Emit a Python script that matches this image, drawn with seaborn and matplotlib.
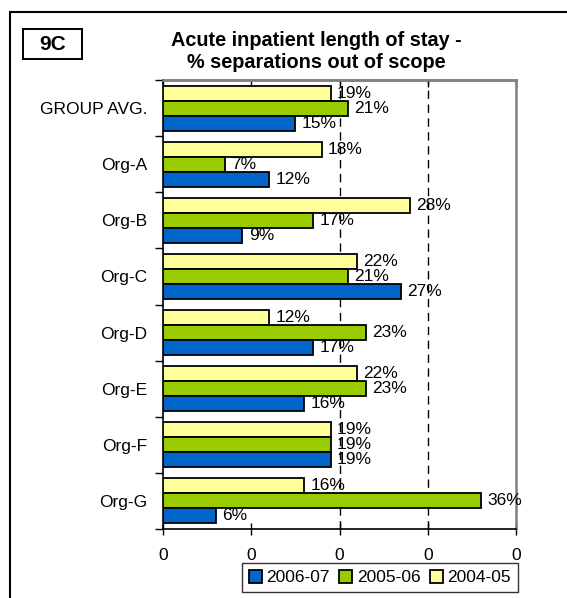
import matplotlib
matplotlib.use("Agg")
import matplotlib.pyplot as plt
import matplotlib.patches as mpatches
from matplotlib.ticker import FixedLocator, FuncFormatter
import seaborn as sns
import pandas as pd

categories = ["GROUP AVG.", "Org-A", "Org-B", "Org-C", "Org-D", "Org-E", "Org-F", "Org-G"]
v_2004_05 = [0.19, 0.18, 0.28, 0.22, 0.12, 0.22, 0.19, 0.16]
v_2005_06 = [0.21, 0.07, 0.17, 0.21, 0.23, 0.23, 0.19, 0.36]
v_2006_07 = [0.15, 0.12, 0.09, 0.27, 0.17, 0.16, 0.19, 0.06]
series_names = ["2004-05", "2005-06", "2006-07"]
colors = {"2004-05": "#FFFF99", "2005-06": "#99CC00", "2006-07": "#0066CC"}
x_ticks = [0.0, 0.1, 0.2, 0.3, 0.4]
title_lines = ["Acute inpatient length of stay -", "% separations out of scope"]
tag = "9C"

rows = []
for name, vals in zip(series_names, [v_2004_05, v_2005_06, v_2006_07]):
    for c, v in zip(categories, vals):
        rows.append({"Org": c, "Year": name, "Value": v})
df = pd.DataFrame(rows)

sns.set_theme(style="white")
plt.rcParams["font.family"] = ["Liberation Sans", "DejaVu Sans"]
plt.rcParams["text.color"] = "black"
plt.rcParams["xtick.color"] = "black"
plt.rcParams["ytick.color"] = "black"
plt.rcParams["xtick.labelcolor"] = "black"
plt.rcParams["ytick.labelcolor"] = "black"

W, H = 567, 598
fig = plt.figure(figsize=(W / 100, H / 100), dpi=100)
left, right, top, bottom = 163, 516, 80, 529
ax = fig.add_axes([left / W, 1 - bottom / H, (right - left) / W, (bottom - top) / H])

sns.barplot(data=df, y="Org", x="Value", hue="Year", order=categories,
            hue_order=series_names, palette=colors, orient="h", saturation=1,
            edgecolor="black", linewidth=1.3, width=0.8, ax=ax, zorder=3, legend=True)

for cont in ax.containers:
    labels = [f"{b.get_width() * 100:.0f}%" for b in cont]
    ax.bar_label(cont, labels=labels, padding=4.5, fontsize=12.5, color="black", zorder=4)

ax.set_xlim(0, 0.4)
ax.set_ylim(len(categories) - 0.5, -0.5)
for xv in [0.2, 0.3]:
    ax.axvline(xv, color="black", lw=1.0, ls=(0, (6, 4)), zorder=1)

ax.xaxis.set_major_locator(FixedLocator(x_ticks))
ax.xaxis.set_major_formatter(FuncFormatter(lambda v, p: f"{v:.0f}"))
ax.tick_params(axis="x", which="major", direction="inout", length=8, width=1,
               labelsize=12.5, pad=10, colors="black", bottom=True, top=False)

secax = ax.secondary_xaxis("top")
secax.set_xticks(x_ticks)
secax.tick_params(direction="in", length=5, width=1, labeltop=False, color="black")
secax.spines["top"].set_color("#808080")
secax.spines["top"].set_linewidth(1.8)

ax.set_yticks(range(len(categories)))
ax.set_yticklabels(categories)
ax.tick_params(axis="y", which="major", length=0, labelsize=12.5, pad=11, labelcolor="black")
ax.yaxis.set_minor_locator(FixedLocator([i - 0.5 for i in range(len(categories) + 1)]))
ax.tick_params(axis="y", which="minor", left=True, length=6, width=1, direction="out", color="black")

ax.set_xlabel("")
ax.set_ylabel("")
for s in ["left", "bottom"]:
    ax.spines[s].set_color("black")
    ax.spines[s].set_linewidth(1.2)
for s in ["top", "right"]:
    ax.spines[s].set_color("#808080")
    ax.spines[s].set_linewidth(1.8)

handles, labs = ax.get_legend_handles_labels()
leg = ax.legend(handles[::-1], labs[::-1], loc="upper left", bbox_to_anchor=(242 / W, 1 - 563 / H),
                bbox_transform=fig.transFigure, ncol=3, frameon=True, fancybox=False,
                edgecolor="black", fontsize=12.5, handlelength=0.75, handleheight=0.75,
                handletextpad=0.25, columnspacing=0.55, borderpad=0.4, borderaxespad=0)
leg.get_frame().set_linewidth(1.0)
for t in leg.get_texts():
    t.set_color("black")

fig.text(316 / W, 1 - 40 / H, title_lines[0], ha="center", va="center",
         fontsize=14.3, fontweight="bold", color="black")
fig.text(316 / W, 1 - 63 / H, title_lines[1], ha="center", va="center",
         fontsize=14.3, fontweight="bold", color="black")

fig.patches.append(mpatches.Rectangle((23 / W, 1 - 59 / H), 59 / W, 30 / H, transform=fig.transFigure,
                                      fill=False, ec="black", lw=1.4))
fig.text(52.5 / W, 1 - 44 / H, tag, ha="center", va="center", fontsize=15, fontweight="bold",
         color="black")
fig.patches.append(mpatches.Rectangle((10 / W, -0.1), 1.2, 1 - 12 / H + 0.1, transform=fig.transFigure,
                                      fill=False, ec="black", lw=1.5))

fig.savefig("out.png", dpi=100)
